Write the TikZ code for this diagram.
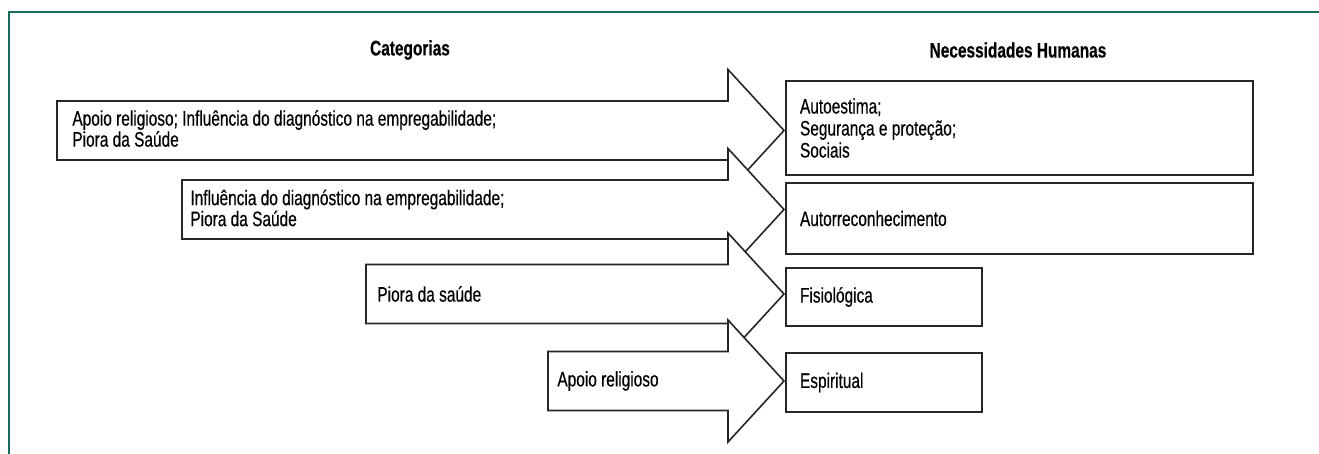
\documentclass[tikz,border=0pt]{standalone}
\usepackage{fontspec}
\setmainfont[FakeStretch=0.735, FakeBold=0.4]{Liberation Sans}
\definecolor{verdeborda}{RGB}{22,106,90}
\begin{document}
\begin{tikzpicture}[x=0.5pt,y=-0.5pt,
  seta/.style={draw=black!85, line width=0.8pt, fill=white, line join=miter},
  caixa/.style={draw=black!85, line width=1pt, anchor=north west, align=flush left,
    inner xsep=7pt, font=\fontsize{10.5}{11}\selectfont},
  rotulo/.style={anchor=west, align=left, inner sep=0pt, font=\fontsize{10.5}{10.5}\selectfont},
  titulo/.style={font=\fontsize{10.5}{11}\selectfont\bfseries}]

\useasboundingbox (0,0) rectangle (1319,454);

% Frame
\draw[verdeborda, line width=1pt] (9,454) -- (9,12) -- (1319,12);

% Titles
\node[titulo] (tcat) at (410,50) {Categorias};
\node[titulo] (tnec) at (1018,50) {Necessidades Humanas};

% Block arrows (categories)
\foreach \xl/\yc in {57/130.5, 182/209.5, 366/294, 548/381}
  \draw[seta] (\xl,\yc-29.5) -- (728,\yc-29.5) -- (728,\yc-61) -- (784,\yc)
    -- (728,\yc+61) -- (728,\yc+29.5) -- (\xl,\yc+29.5) -- cycle;

\node[rotulo] (cat1) at (72,128.5)
  {Apoio religioso; Influência do diagnóstico na empregabilidade;\\Piora da Saúde};
\node[rotulo] (cat2) at (190,208)
  {Influência do diagnóstico na empregabilidade;\\Piora da Saúde};
\node[rotulo] (cat3) at (377,294) {Piora da saúde};
\node[rotulo] (cat4) at (557,381) {Apoio religioso};

% Needs
\node[caixa, text width=219.5pt, minimum height=47pt] (nec1) at (785,80)
  {Autoestima;\\Segurança e proteção;\\Sociais};
\node[caixa, text width=219.5pt, minimum height=35.5pt] (nec2) at (785,182)
  {Autorreconhecimento};
\node[caixa, text width=84pt, minimum height=29pt] (nec3) at (785,267)
  {Fisiológica};
\node[caixa, text width=84pt, minimum height=29.5pt] (nec4) at (785,352)
  {Espiritual};

\end{tikzpicture}
\end{document}
